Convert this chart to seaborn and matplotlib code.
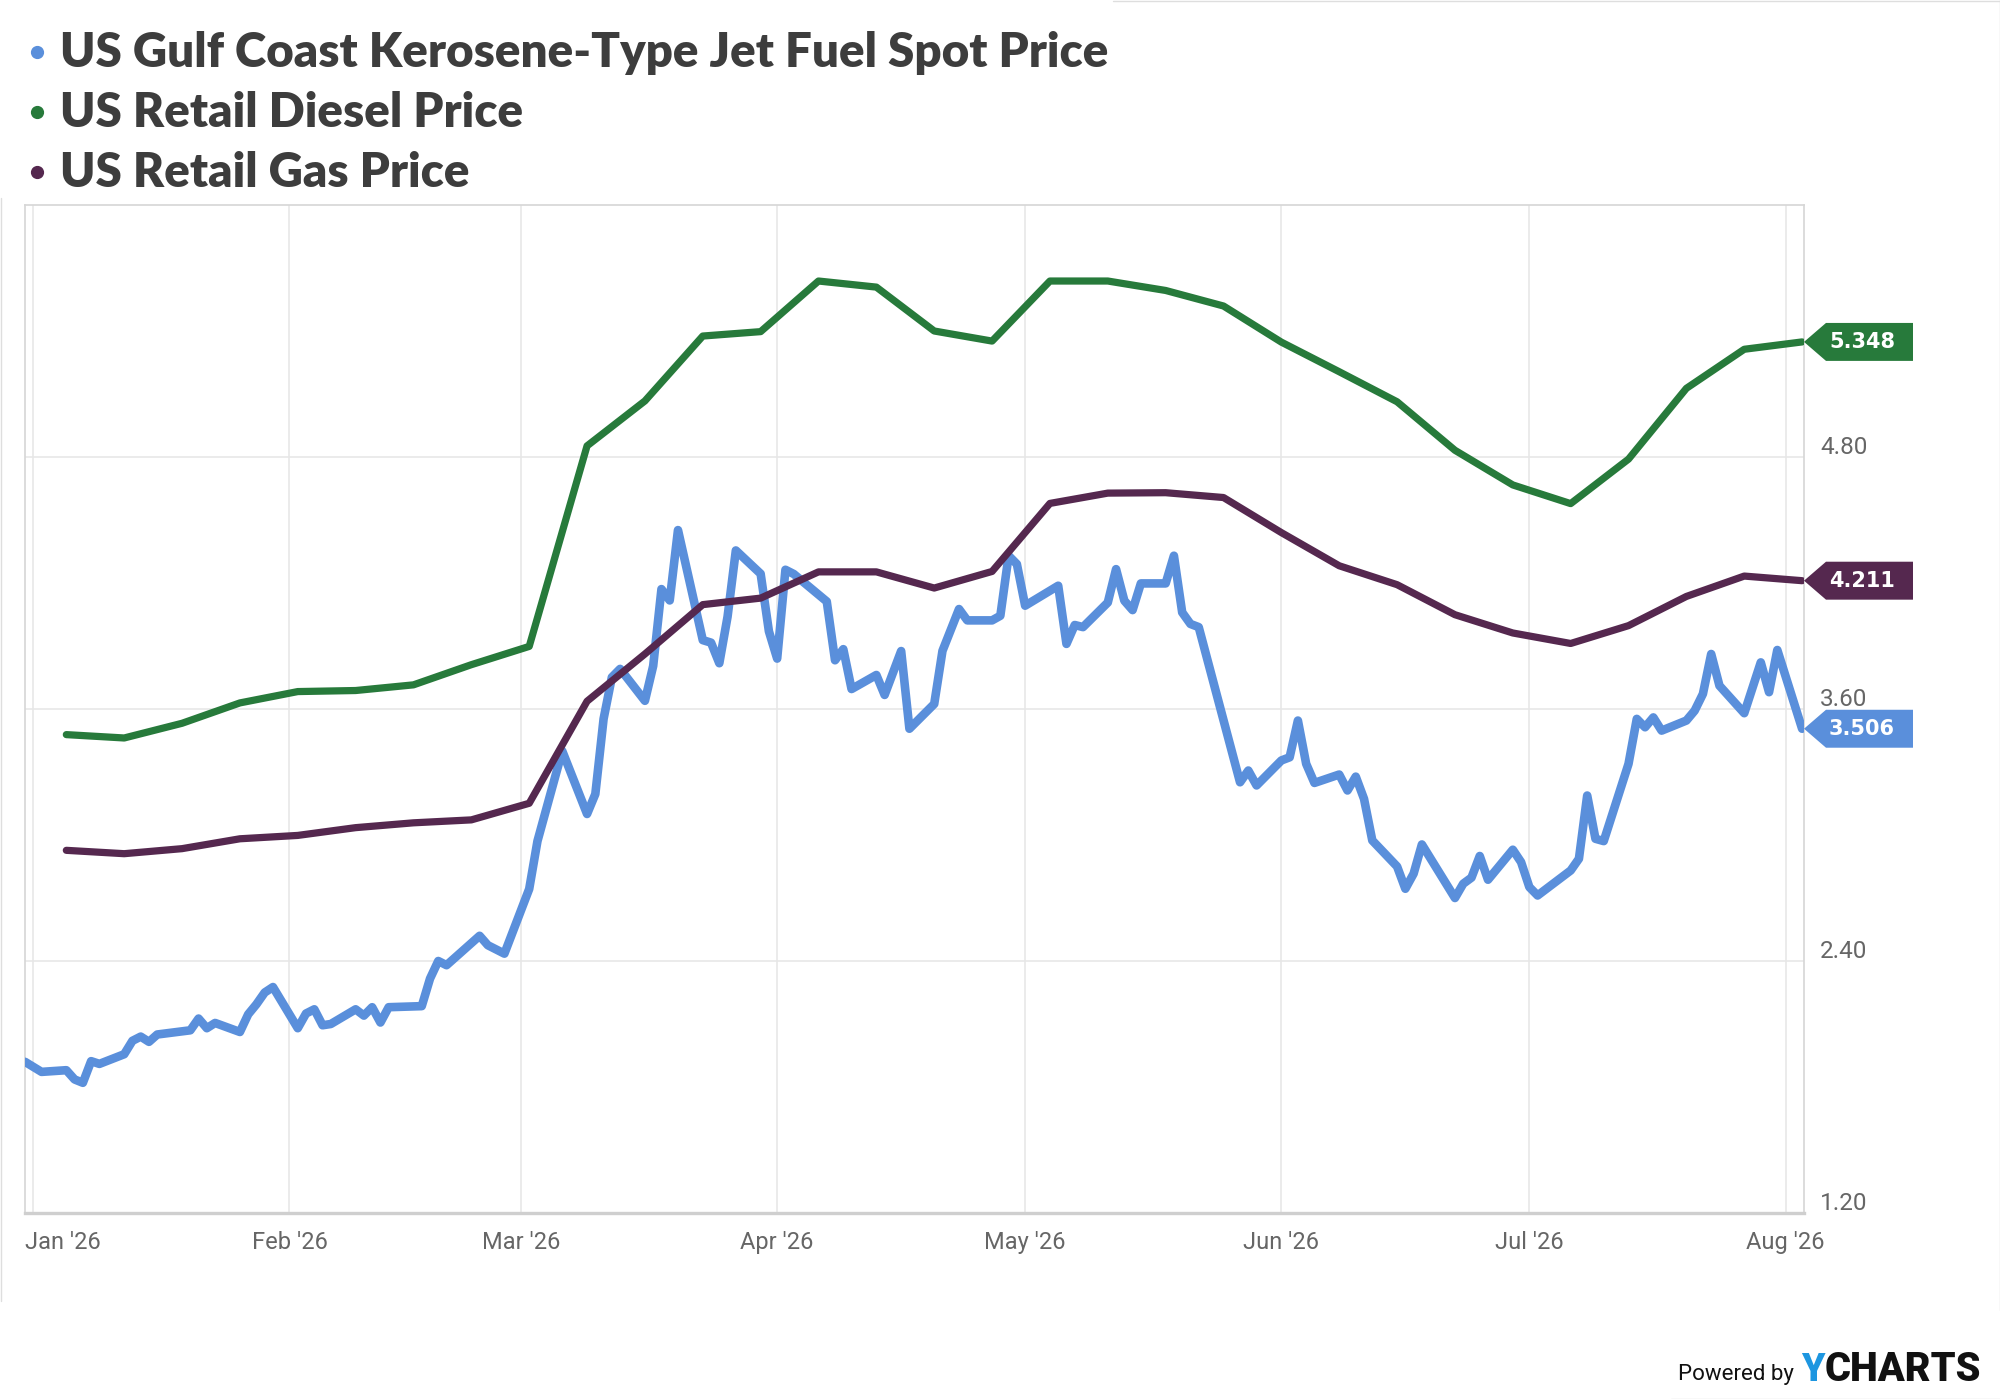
import matplotlib
matplotlib.use("Agg")
import matplotlib.pyplot as plt
import matplotlib.transforms as mtransforms
from matplotlib.patches import Polygon
from matplotlib.lines import Line2D
import pandas as pd
import seaborn as sns

# Jet fuel spot price (daily, business days)
jet_dates = [
    "2025-12-31", "2026-01-02", "2026-01-05", "2026-01-06", "2026-01-07", "2026-01-08", "2026-01-09",
    "2026-01-12", "2026-01-13", "2026-01-14", "2026-01-15", "2026-01-16", "2026-01-20", "2026-01-21",
    "2026-01-22", "2026-01-23", "2026-01-26", "2026-01-27", "2026-01-28", "2026-01-29", "2026-01-30",
    "2026-02-02", "2026-02-03", "2026-02-04", "2026-02-05", "2026-02-06", "2026-02-09", "2026-02-10",
    "2026-02-11", "2026-02-12", "2026-02-13", "2026-02-17", "2026-02-18", "2026-02-19", "2026-02-20",
    "2026-02-24", "2026-02-25", "2026-02-27", "2026-03-02", "2026-03-03", "2026-03-04", "2026-03-06",
    "2026-03-09", "2026-03-10", "2026-03-11", "2026-03-12", "2026-03-13", "2026-03-16", "2026-03-17",
    "2026-03-18", "2026-03-19", "2026-03-20", "2026-03-23", "2026-03-24", "2026-03-25", "2026-03-26",
    "2026-03-27", "2026-03-30", "2026-03-31", "2026-04-01", "2026-04-02", "2026-04-03", "2026-04-07",
    "2026-04-08", "2026-04-09", "2026-04-10", "2026-04-13", "2026-04-14", "2026-04-16", "2026-04-17",
    "2026-04-20", "2026-04-21", "2026-04-23", "2026-04-24", "2026-04-27", "2026-04-28", "2026-04-29",
    "2026-04-30", "2026-05-01", "2026-05-05", "2026-05-06", "2026-05-07", "2026-05-08", "2026-05-11",
    "2026-05-12", "2026-05-13", "2026-05-14", "2026-05-15", "2026-05-18", "2026-05-19", "2026-05-20",
    "2026-05-21", "2026-05-22", "2026-05-27", "2026-05-28", "2026-05-29", "2026-06-01", "2026-06-02",
    "2026-06-03", "2026-06-04", "2026-06-05", "2026-06-08", "2026-06-09", "2026-06-10", "2026-06-11",
    "2026-06-12", "2026-06-15", "2026-06-16", "2026-06-17", "2026-06-18", "2026-06-22", "2026-06-23",
    "2026-06-24", "2026-06-25", "2026-06-26", "2026-06-29", "2026-06-30", "2026-07-01", "2026-07-02",
    "2026-07-06", "2026-07-07", "2026-07-08", "2026-07-09", "2026-07-10", "2026-07-13", "2026-07-14",
    "2026-07-15", "2026-07-16", "2026-07-17", "2026-07-20", "2026-07-21", "2026-07-22", "2026-07-23",
    "2026-07-24", "2026-07-27", "2026-07-29", "2026-07-30", "2026-07-31", "2026-08-03",
]
jet_values = [
    1.920, 1.872, 1.880, 1.836, 1.820, 1.923, 1.910,
    1.956, 2.020, 2.040, 2.015, 2.050, 2.070, 2.126,
    2.080, 2.105, 2.062, 2.146, 2.194, 2.250, 2.276,
    2.080, 2.150, 2.170, 2.094, 2.100, 2.170, 2.140,
    2.180, 2.107, 2.180, 2.185, 2.316, 2.400, 2.380,
    2.520, 2.475, 2.435, 2.743, 2.971, 3.114, 3.400,
    3.100, 3.195, 3.553, 3.751, 3.791, 3.639, 3.805,
    4.171, 4.117, 4.452, 3.928, 3.916, 3.818, 4.040,
    4.355, 4.244, 3.970, 3.840, 4.263, 4.243, 4.112,
    3.832, 3.885, 3.695, 3.762, 3.667, 3.876, 3.506,
    3.624, 3.877, 4.076, 4.022, 4.022, 4.044, 4.330,
    4.290, 4.092, 4.187, 3.910, 4.000, 3.990, 4.107,
    4.266, 4.116, 4.071, 4.198, 4.198, 4.330, 4.060,
    4.005, 3.990, 3.251, 3.307, 3.236, 3.355, 3.370,
    3.545, 3.339, 3.248, 3.288, 3.212, 3.278, 3.172,
    2.974, 2.850, 2.744, 2.816, 2.955, 2.700, 2.768,
    2.797, 2.900, 2.787, 2.930, 2.871, 2.752, 2.712,
    2.831, 2.887, 3.188, 2.982, 2.971, 3.339, 3.553,
    3.513, 3.560, 3.497, 3.545, 3.592, 3.672, 3.862,
    3.711, 3.580, 3.822, 3.680, 3.881, 3.506,
]

# Weekly retail prices (Mondays from Jan 5)
weekly_start = "2026-01-05"
diesel_values = [3.478, 3.462, 3.532, 3.629, 3.683, 3.688, 3.715, 3.811, 3.898, 4.853,
                 5.067, 5.376, 5.397, 5.638, 5.609, 5.400, 5.352, 5.638, 5.638, 5.593,
                 5.519, 5.347, 5.206, 5.063, 4.832, 4.667, 4.578, 4.790, 5.127, 5.313, 5.348]
gas_values = [2.927, 2.911, 2.935, 2.982, 2.998, 3.035, 3.058, 3.072, 3.151, 3.637,
              3.862, 4.097, 4.128, 4.253, 4.253, 4.176, 4.255, 4.579, 4.628, 4.630,
              4.607, 4.440, 4.282, 4.192, 4.049, 3.962, 3.912, 3.997, 4.136, 4.233, 4.211]

series_names = ["US Gulf Coast Kerosene-Type Jet Fuel Spot Price",
                "US Retail Diesel Price",
                "US Retail Gas Price"]
series_colors = ["#5a8fdb", "#277a3b", "#55284f"]
y_ticks = [1.20, 2.40, 3.60, 4.80]
month_labels = ["Jan '26", "Feb '26", "Mar '26", "Apr '26", "May '26", "Jun '26", "Jul '26", "Aug '26"]

W, H = 2000, 1399

sns.set_theme(style="white")
plt.rcParams["font.family"] = ["Roboto", "DejaVu Sans"]

fig = plt.figure(figsize=(W / 100, H / 100), dpi=100)
ax = fig.add_axes([25 / W, 1 - 1213 / H, (1804 - 25) / W, (1213 - 205) / H])

jet = pd.DataFrame({"date": pd.to_datetime(jet_dates), "value": jet_values})
weekly = pd.DataFrame({
    "date": pd.date_range(weekly_start, periods=len(diesel_values), freq="7D"),
    "diesel": diesel_values,
    "gas": gas_values,
})

line_kw = dict(estimator=None, solid_joinstyle="round", solid_capstyle="round", ax=ax)
sns.lineplot(data=jet, x="date", y="value", color=series_colors[0], linewidth=6.2, zorder=3, **line_kw)
sns.lineplot(data=weekly, x="date", y="diesel", color=series_colors[1], linewidth=5.2, zorder=4, **line_kw)
sns.lineplot(data=weekly, x="date", y="gas", color=series_colors[2], linewidth=5.2, zorder=5, **line_kw)

ax.set_xlim(pd.Timestamp("2025-12-31"), pd.Timestamp("2026-08-03 05:30"))
ax.set_ylim(1.2, 6.0)
ax.set_xlabel("")
ax.set_ylabel("")

# grid
month_starts = pd.date_range("2026-01-01", "2026-08-01", freq="MS")
ax.set_xticks(month_starts)
ax.set_xticklabels(month_labels, fontsize=17, color="#666666")
ax.set_yticks(y_ticks)
ax.set_yticklabels([])
ax.grid(True, color="#e6e6e6", linewidth=1.1)
ax.tick_params(axis="both", length=0)
ax.tick_params(axis="x", pad=13)
for name, sp in ax.spines.items():
    sp.set_color("#d6d6d6")
    sp.set_linewidth(1.2)
ax.spines["bottom"].set_linewidth(2.4)
ax.spines["bottom"].set_color("#cfcfcf")

# first month label sits flush with the left edge
first = ax.get_xticklabels()[0]
first.set_ha("left")
first.set_transform(first.get_transform() + mtransforms.ScaledTranslation(-8 / 100, 0, fig.dpi_scale_trans))

# right-hand value labels
blend = mtransforms.blended_transform_factory(ax.transAxes, ax.transData)
for v in y_ticks:
    ax.text(1.009, v + 0.012, f"{v:.2f}", transform=blend, ha="left", va="baseline",
            fontsize=17.5, color="#666666", clip_on=False)

# end-of-series tags
aw = 1779.0
hh = 19 / 210.25
for vals, col in [(jet_values, series_colors[0]), (diesel_values, series_colors[1]), (gas_values, series_colors[2])]:
    v = vals[-1]
    pts = [(1.0, v), (1 + 22 / aw, v + hh), (1 + 109 / aw, v + hh),
           (1 + 109 / aw, v - hh), (1 + 22 / aw, v - hh)]
    ax.add_patch(Polygon(pts, closed=True, transform=blend, facecolor=col,
                         edgecolor="none", clip_on=False, zorder=6))
    ax.text(1 + 25 / aw, v, f"{v:.3f}", transform=blend, ha="left", va="center",
            fontsize=15, fontweight="bold", family="DejaVu Sans", color="white",
            clip_on=False, zorder=7)

# legend at the top
leg_texts = []
for i, (name, col) in enumerate(zip(series_names, series_colors)):
    base = 67 + 60 * i
    fig.add_artist(Line2D([37 / W], [1 - (base - 15) / H], marker="o", markersize=8.5,
                          color=col, linestyle="none", transform=fig.transFigure))
    t = fig.text(60.5 / W, 1 - base / H, name, fontsize=34, fontweight="heavy",
                 family=["Lato", "DejaVu Sans"], color="#3d3d3d", va="baseline", ha="left")
    leg_texts.append(t)

fig.canvas.draw()
r = fig.canvas.get_renderer()
width = leg_texts[0].get_window_extent(r).width
fs = 34 * 1050 / width
for t in leg_texts:
    t.set_fontsize(fs)

# footer logo
fig.text(1678 / W, 1 - 1380 / H, "Powered by", fontsize=16, color="#111111", ha="left", va="baseline")
fig.text(1801 / W, 1 - 1381 / H, "Y", fontsize=27, fontweight="heavy", color="#1d96e0", ha="left", va="baseline")
fig.text(1981 / W, 1 - 1381 / H, "CHARTS", fontsize=28.5, fontweight="heavy", color="#111111", ha="right", va="baseline")

# faint screenshot frame pieces
frame_kw = dict(color="#dedede", linewidth=1.0, transform=fig.transFigure)
fig.add_artist(Line2D([0.5 / W, 0.5 / W], [1 - 198 / H, 1 - 1301 / H], **frame_kw))
fig.add_artist(Line2D([1113 / W, 1.0], [1 - 0.5 / H, 1 - 0.5 / H], **frame_kw))
fig.add_artist(Line2D([1 - 0.5 / W, 1 - 0.5 / W], [1.0, 1 - 1310 / H], **frame_kw))
fig.add_artist(Line2D([1671 / W, 1.0], [0.5 / H, 0.5 / H], **frame_kw))

fig.savefig("out.png", dpi=100, facecolor="white")
